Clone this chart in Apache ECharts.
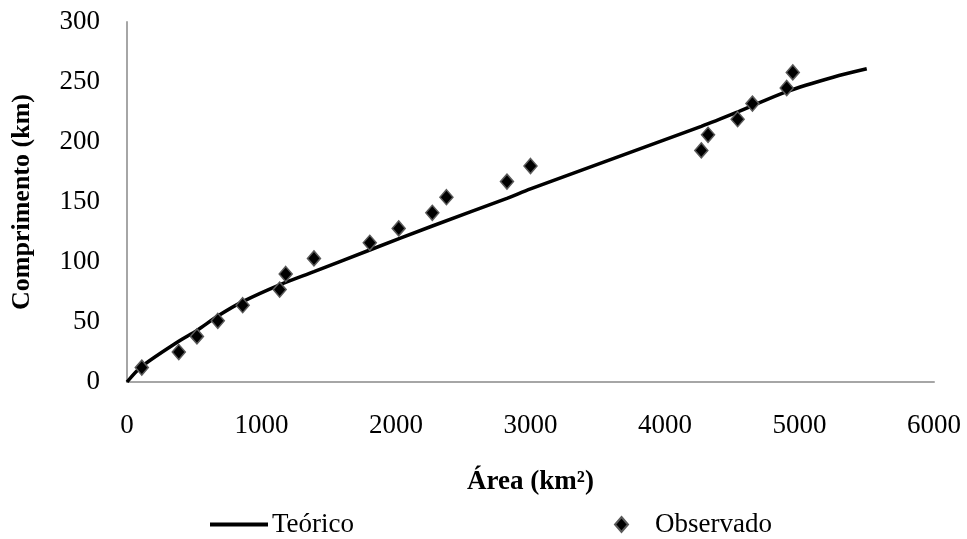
<!DOCTYPE html>
<html>
<head>
<meta charset="utf-8">
<script src="https://cdn.jsdelivr.net/npm/echarts@6/dist/echarts.min.js"></script>
<style>
html,body{margin:0;padding:0;background:#fff;}
#c{width:967px;height:539px;}
</style>
</head>
<body>
<div id="c"></div>
<script>
// Teórico curve (Área km², Comprimento km)
var teoricoArea = [0, 110, 385, 520, 675, 860, 1135, 1390, 1805, 2270, 2825, 3000, 4270, 4540, 4905, 5250, 5500];
var teoricoComp = [0, 13, 34, 43, 55, 67, 81, 92, 110, 130, 153, 161, 213, 225, 242, 254, 261];
// Observado points
var obsArea = [110, 385, 520, 675, 860, 1135, 1180, 1390, 1805, 2020, 2270, 2375, 2825, 3000, 4270, 4320, 4540, 4650, 4905, 4950];
var obsComp = [12, 25, 38, 51, 64, 77, 90, 103, 116, 128, 141, 154, 167, 180, 193, 206, 219, 232, 245, 258];

var xTicks = [0, 1000, 2000, 3000, 4000, 5000, 6000];
var yTicks = [0, 50, 100, 150, 200, 250, 300];

var font = 'Liberation Serif';
var chart = echarts.init(document.getElementById('c'));
chart.setOption({
  animation: false,
  backgroundColor: '#fff',
  grid: {left: 127, right: 33, top: 22, bottom: 157, containLabel: false},
  legend: [
    {data: [{name: 'Teórico', icon: 'rect'}], left: 205, top: 506, itemWidth: 58, itemHeight: 4, itemGap: 2,
     textStyle: {fontFamily: font, fontSize: 27, color: '#000', padding: [0, 0, 0, -1]}},
    {data: [{name: 'Observado', icon: 'diamond'}], left: 609, top: 506, itemWidth: 13, itemHeight: 15,
     textStyle: {fontFamily: font, fontSize: 27, color: '#000', padding: [0, 0, 0, 22]}}
  ],
  xAxis: {
    type: 'value', min: xTicks[0], max: xTicks[xTicks.length - 1], interval: 1000,
    name: 'Área (km²)', nameLocation: 'middle', nameGap: 87,
    nameTextStyle: {fontFamily: font, fontSize: 27, fontWeight: 'bold', color: '#000'},
    axisLine: {show: true, lineStyle: {color: '#a6a6a6', width: 2}},
    axisTick: {show: false},
    splitLine: {show: false},
    axisLabel: {fontFamily: font, fontSize: 27, color: '#000', margin: 30,
      formatter: function (v) { return String(v); }}
  },
  yAxis: {
    type: 'value', min: yTicks[0], max: yTicks[yTicks.length - 1], interval: 50,
    name: 'Comprimento (km)', nameLocation: 'middle', nameGap: 92,
    nameTextStyle: {fontFamily: font, fontSize: 26, fontWeight: 'bold', color: '#000'},
    axisLine: {show: true, lineStyle: {color: '#a6a6a6', width: 2}},
    axisTick: {show: false},
    splitLine: {show: false},
    axisLabel: {fontFamily: font, fontSize: 27, color: '#000', margin: 27,
      formatter: function (v) { return String(v); }}
  },
  series: [
    {
      name: 'Teórico', type: 'line', smooth: 0.3, showSymbol: false, symbol: 'none',
      data: teoricoArea.map(function (a, i) { return [a, teoricoComp[i]]; }),
      lineStyle: {color: '#000', width: 3.5},
      itemStyle: {color: '#000'},
      z: 2
    },
    {
      name: 'Observado', type: 'scatter', symbol: 'diamond', symbolSize: [13, 15],
      data: obsArea.map(function (a, i) { return [a, obsComp[i]]; }),
      itemStyle: {color: '#000', borderColor: '#5a5a5a', borderWidth: 1.5, opacity: 1},
      z: 3
    }
  ]
});
</script>
</body>
</html>
